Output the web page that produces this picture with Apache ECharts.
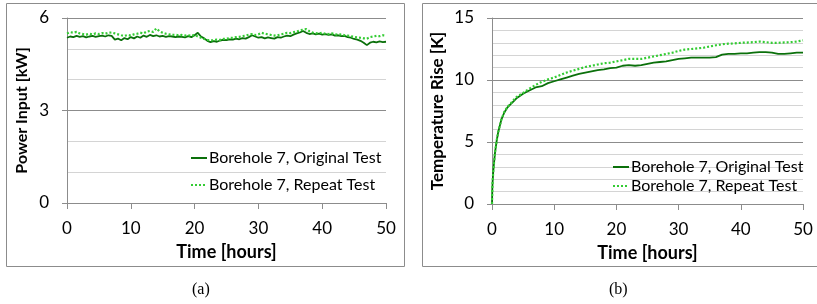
<!DOCTYPE html>
<html>
<head>
<meta charset="utf-8">
<script src="https://cdn.jsdelivr.net/npm/echarts@6/dist/echarts.min.js"></script>
<style>
html,body{margin:0;padding:0;background:#fff;}
#c{width:817px;height:304px;}
</style>
</head>
<body>
<div id="c"></div>
<script>
// ---- Data (a): power input ----
const hoursA = [0,0.5,1,1.5,2,2.5,3,3.5,4,4.5,5,5.5,6,6.5,7,7.5,8,8.5,9,9.5,10,10.5,11,11.5,12,12.5,13,13.5,14,14.5,15,15.5,16,16.5,17,17.5,18,18.5,19,19.5,20,20.5,21,21.5,22,22.5,23,23.5,24,24.5,25,25.5,26,26.5,27,27.5,28,28.5,29,29.5,30,30.5,31,31.5,32,32.5,33,33.5,34,34.5,35,35.5,36,36.5,37,37.5,38,38.5,39,39.5,40,40.5,41,41.5,42,42.5,43,43.5,44,44.5,45,45.5,46,46.5,47,47.5,48,48.5,49,49.5,50];
const powerOriginal = [5.36,5.40,5.38,5.42,5.39,5.41,5.37,5.40,5.42,5.39,5.41,5.43,5.40,5.44,5.42,5.30,5.33,5.28,5.35,5.31,5.38,5.34,5.40,5.36,5.43,5.39,5.45,5.41,5.44,5.40,5.42,5.39,5.41,5.40,5.38,5.40,5.39,5.37,5.41,5.38,5.44,5.52,5.40,5.34,5.26,5.22,5.25,5.23,5.27,5.29,5.28,5.31,5.30,5.33,5.31,5.35,5.33,5.38,5.44,5.40,5.36,5.38,5.34,5.37,5.35,5.33,5.38,5.36,5.40,5.43,5.41,5.46,5.50,5.53,5.58,5.52,5.48,5.50,5.47,5.49,5.46,5.48,5.45,5.47,5.43,5.44,5.41,5.42,5.38,5.36,5.32,5.30,5.26,5.20,5.12,5.20,5.23,5.21,5.24,5.22,5.23];
const powerRepeat = [5.50,5.54,5.52,5.55,5.50,5.48,5.46,5.49,5.47,5.50,5.48,5.51,5.49,5.52,5.53,5.50,5.47,5.44,5.42,5.45,5.43,5.47,5.49,5.52,5.50,5.56,5.58,5.55,5.66,5.57,5.52,5.49,5.47,5.45,5.46,5.44,5.45,5.43,5.44,5.42,5.45,5.40,5.36,5.32,5.29,5.27,5.28,5.30,5.29,5.32,5.33,5.35,5.36,5.38,5.39,5.41,5.43,5.46,5.48,5.45,5.47,5.52,5.49,5.47,5.45,5.43,5.44,5.47,5.49,5.52,5.51,5.54,5.56,5.60,5.62,5.64,5.57,5.53,5.51,5.50,5.52,5.49,5.48,5.50,5.47,5.46,5.47,5.44,5.43,5.41,5.39,5.37,5.36,5.34,5.33,5.38,5.40,5.42,5.41,5.44,5.43];

// ---- Data (b): temperature rise ----
const hoursB = [0,0.05,0.1,0.2,0.3,0.5,0.75,1,1.5,2,2.5,3,3.5,4,5,6,7,8,9,10,11,12,13,14,15,16,17,18,19,20,21,22,23,24,25,26,27,28,29,30,31,32,33,34,35,36,37,38,39,40,41,42,43,44,45,46,47,48,49,50];
const tempOriginal = [0,1.2,1.8,2.6,3.2,4.2,5.1,5.8,6.8,7.4,7.8,8.05,8.3,8.55,8.9,9.15,9.4,9.5,9.75,9.9,10.05,10.2,10.35,10.5,10.6,10.7,10.8,10.85,10.95,11.0,11.15,11.2,11.15,11.2,11.3,11.4,11.45,11.5,11.6,11.7,11.75,11.8,11.8,11.8,11.8,11.85,12.05,12.1,12.1,12.15,12.15,12.2,12.25,12.25,12.2,12.1,12.1,12.15,12.2,12.2];
const tempRepeat = [0,1.2,1.8,2.6,3.2,4.2,5.1,5.8,6.8,7.45,7.85,8.1,8.4,8.65,8.95,9.3,9.6,9.85,10.05,10.2,10.4,10.6,10.75,10.9,11.05,11.15,11.25,11.35,11.4,11.5,11.6,11.7,11.7,11.7,11.8,11.9,12.0,12.1,12.2,12.35,12.45,12.5,12.55,12.6,12.7,12.8,12.88,12.93,12.95,13.0,13.02,13.05,13.1,13.05,13.0,13.0,13.03,13.05,13.1,13.2];

const seriesNames = ['Borehole 7, Original Test','Borehole 7, Repeat Test'];
const captions = ['(a)','(b)'];

const FONT = 'Lato';
const DARK = '#0b700b';
const LIGHT = '#33cc33';
const AXIS = '#8c8c8c';

function pairs(xs, ys){ return xs.map((x,i)=>[x, ys[i]]); }

const chart = echarts.init(document.getElementById('c'), null, {renderer:'canvas'});

function xAxisCfg(gi){
  return {
    type:'value', gridIndex:gi, min:0, max:50, interval:10,
    name:'Time [hours]', nameLocation:'middle', nameGap:40,
    nameTextStyle:{fontFamily:FONT, fontWeight:'bold', fontSize:18, color:'#000'},
    axisLine:{show:true, lineStyle:{color:AXIS, width:1}},
    axisTick:{show:true, length:6, lineStyle:{color:AXIS}},
    axisLabel:{fontFamily:FONT, fontSize:17, color:'#000', margin:17},
    splitLine:{show:false}
  };
}

function yAxisCfg(gi, max, interval, minorN, name, gap, nsize){
  return {
    type:'value', gridIndex:gi, min:0, max:max, interval:interval,
    name:name, nameLocation:'middle', nameGap:gap,
    nameTextStyle:{fontFamily:FONT, fontWeight:'bold', fontSize:nsize, color:'#000'},
    axisLine:{show:true, lineStyle:{color:AXIS, width:1}},
    axisTick:{show:true, length:5, lineStyle:{color:AXIS}},
    axisLabel:{fontFamily:FONT, fontSize:17, color:'#000', margin:18},
    splitLine:{show:true, lineStyle:{color:'#8c8c8c', width:1}},
    minorTick:{show:false, splitNumber:minorN},
    minorSplitLine:{show:true, lineStyle:{color:'#d4d4d4', width:1}}
  };
}

const legendCommon = {
  data:seriesNames.map(n=>({name:n})), orient:'vertical',
  itemWidth:16, itemHeight:14, padding:0,
  itemStyle:{opacity:0},
  textStyle:{fontFamily:FONT, fontSize:16, color:'#000', padding:[0,0,0,-3]}
};

chart.setOption({
  animation:false,
  textStyle:{fontFamily:FONT},
  grid:[
    {left:67, right:431, top:18, bottom:101},
    {left:492, right:14, top:18, bottom:100}
  ],
  xAxis:[xAxisCfg(0), xAxisCfg(1)],
  yAxis:[
    yAxisCfg(0, 6, 3, 3, 'Power Input [kW]', 37, 16),
    yAxisCfg(1, 15, 5, 5, 'Temperature Rise [K]', 46, 17)
  ],
  legend:[
    Object.assign({}, legendCommon, {left:190, top:150, itemGap:11}),
    Object.assign({}, legendCommon, {left:612, top:159, itemGap:3})
  ],
  graphic:[
    {type:'rect', shape:{x:6.5, y:3.5, width:398, height:263}, style:{fill:'none', stroke:'#8c8c8c', lineWidth:1}, silent:true},
    {type:'rect', shape:{x:422.5, y:3.5, width:398, height:263}, style:{fill:'none', stroke:'#8c8c8c', lineWidth:1}, silent:true},
    {type:'text', left:192, top:282, style:{text:captions[0], font:'16px "Liberation Serif"', fill:'#000'}},
    {type:'text', left:609, top:282, style:{text:captions[1], font:'16px "Liberation Serif"', fill:'#000'}}
  ],
  series:[
    {name:seriesNames[0], type:'line', xAxisIndex:0, yAxisIndex:0, data:pairs(hoursA, powerOriginal), symbol:'none', lineStyle:{color:DARK, width:1.8}, itemStyle:{color:DARK}, z:3},
    {name:seriesNames[1], type:'line', xAxisIndex:0, yAxisIndex:0, data:pairs(hoursA, powerRepeat), symbol:'none', lineStyle:{color:LIGHT, width:2.2, type:[2,2]}, itemStyle:{color:LIGHT}, z:4},
    {name:seriesNames[0], type:'line', xAxisIndex:1, yAxisIndex:1, data:pairs(hoursB, tempOriginal), symbol:'none', lineStyle:{color:DARK, width:1.8}, itemStyle:{color:DARK}, z:3},
    {name:seriesNames[1], type:'line', xAxisIndex:1, yAxisIndex:1, data:pairs(hoursB, tempRepeat), symbol:'none', lineStyle:{color:LIGHT, width:2.2, type:[2,2]}, itemStyle:{color:LIGHT}, z:4}
  ]
});
</script>
</body>
</html>
